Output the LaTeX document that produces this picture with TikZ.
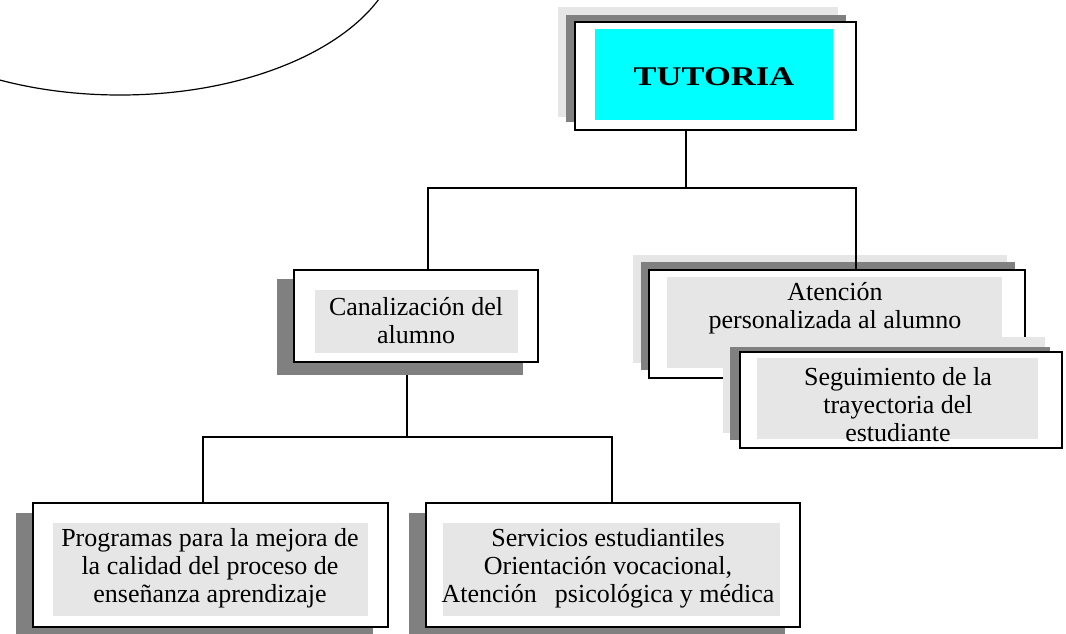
\documentclass[tikz,border=0pt]{standalone}
\usepackage{fontspec}
\usepackage{graphicx}
\setmainfont{Liberation Serif}
\definecolor{shdark}{HTML}{808080}
\definecolor{shlight}{HTML}{E6E6E6}
\definecolor{innergray}{HTML}{E6E6E6}
\definecolor{tcyan}{HTML}{00FFFF}
\tikzset{
  boxline/.style={draw=black, line width=1.6pt},
  thickbox/.style={draw=black, line width=2.5pt},
  conn/.style={draw=black, line width=1.6pt},
  txt/.style={align=center, inner sep=0pt, font=\fontsize{26}{28}\selectfont},
}
\begin{document}
\begin{tikzpicture}[x=1pt,y=-1pt]
\useasboundingbox (0,0) rectangle (1066,633);
\begin{scope}
\clip (0,0) rectangle (1066,633);
% ellipse top-left
\draw[line width=1.2pt] (120,-60) ellipse [x radius=280pt, y radius=155pt];

% junction coordinates
\coordinate (j1) at (686,188);
\coordinate (jl) at (428,188);
\coordinate (jr) at (856,188);
\coordinate (j2) at (407,437);
\coordinate (jl2) at (203,437);
\coordinate (jr2) at (612,437);

% connector behind shadows
\draw[conn] (j2) -- (j2 |- 0,362);

% TUTORIA
\fill[shlight] (558,7) rectangle (838,117);
\fill[shdark] (566,15) rectangle (846,122);
\node[boxline, fill=white, minimum width=281pt, minimum height=108pt, inner sep=0pt] (tut) at (715.5,76) {};
\fill[tcyan] (595,29) rectangle (833,120);
\node[font=\fontsize{27}{28}\selectfont\bfseries, inner sep=0pt] (tutt) at (714,77) {\scalebox{1.28}[1]{TUTORIA}};

% Canalizacion
\fill[shdark] (277,279) rectangle (523,375);
\node[boxline, fill=white, minimum width=244pt, minimum height=92pt, inner sep=0pt] (can) at (416,316) {};
\fill[innergray] (315,290) rectangle (518,353);
\node[txt] (cant) at (416,321) {Canalización del\\alumno};

% Programas
\fill[shdark] (16,513) rectangle (373,640);
\node[thickbox, fill=white, minimum width=355pt, minimum height=124pt, inner sep=0pt] (pro) at (210.5,565) {};
\fill[innergray] (53,523) rectangle (368,616);
\node[txt] (prot) at (210,568) {Programas para la mejora de\\la calidad del proceso de\\enseñanza aprendizaje};

% Servicios
\fill[shdark] (409,513) rectangle (785,640);
\node[boxline, fill=white, minimum width=374pt, minimum height=124pt, inner sep=0pt] (ser) at (613,565) {};
\fill[innergray] (443,523) rectangle (780,616);
\node[txt] (sert) at (608,568) {Servicios estudiantiles\\Orientación vocacional,\\Atención\hspace{18pt}psicológica y médica};

% Atencion
\fill[shlight] (633,255) rectangle (1007,363);
\fill[shdark] (641,262) rectangle (1015,370);
\node[boxline, fill=white, minimum width=376pt, minimum height=108pt, inner sep=0pt] (ate) at (837,324) {};
\fill[innergray] (667,277) rectangle (1002,368);
\node[txt] (atet) at (835,308) {Atención\\personalizada al alumno};

% Seguimiento
\fill[shlight] (723,337) rectangle (1045,433);
\fill[shdark] (730,347) rectangle (1050,440);
\node[thickbox, fill=white, minimum width=322pt, minimum height=96pt, inner sep=0pt] (seg) at (901,400) {};
\fill[innergray] (757,358) rectangle (1038,439);
\node[txt] (segt) at (898,405) {Seguimiento de la\\trayectoria del\\estudiante};

% connectors
\draw[conn] (tut.south -| j1) -- (j1);
\draw[conn] (can.north -| jl) |- (j1) -| (ate.north -| jr);
\draw[conn] (pro.north -| jl2) |- (j2) -| (ser.north -| jr2);
\end{scope}
\end{tikzpicture}
\end{document}
